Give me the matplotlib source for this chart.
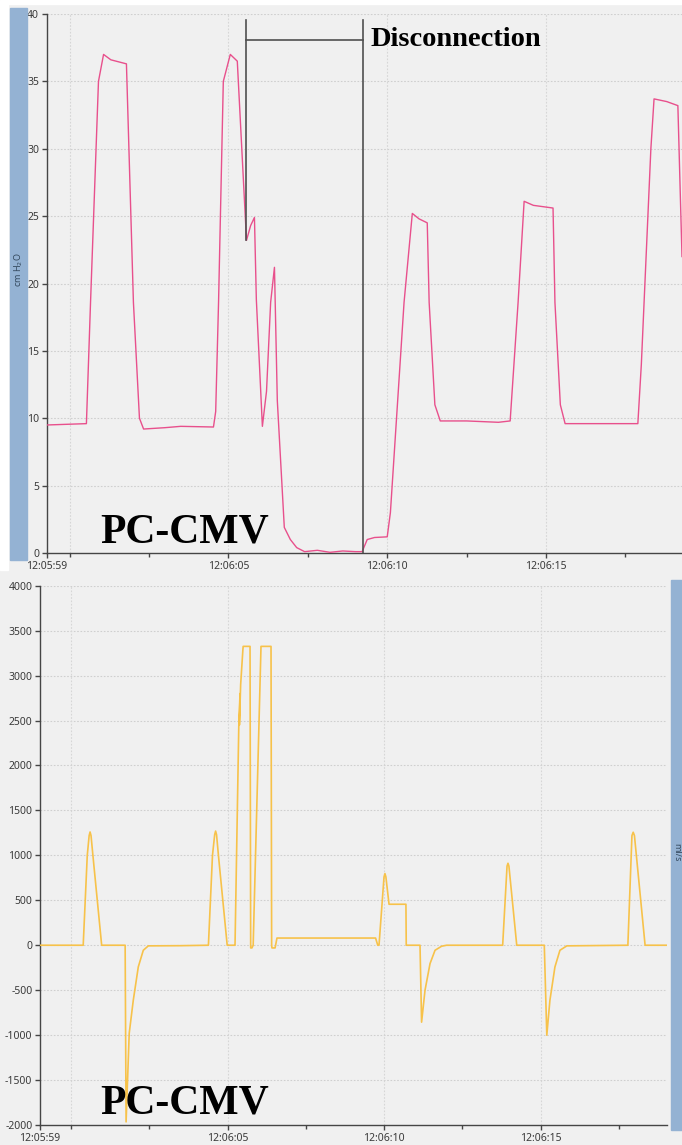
import matplotlib
matplotlib.use('Agg')
import matplotlib.pyplot as plt
from matplotlib.patches import Rectangle

plt.rcParams['axes.unicode_minus'] = False
plt.rcParams['font.family'] = ['Noto Sans', 'DejaVu Sans']

# seconds after 12:06:00
p_time = [-0.72, 0.53, 0.66, 0.91, 1.07, 1.3, 1.79, 2.01, 2.2, 2.33, 3.0, 3.5, 4.53,
          4.6, 4.69, 4.84, 5.06, 5.28, 5.57, 5.7, 5.82, 5.88, 6.07, 6.2, 6.33, 6.45,
          6.54, 6.76, 6.95, 7.15, 7.4, 7.8, 8.2, 8.6, 9.0, 9.21, 9.37, 9.6, 10.0,
          10.1, 10.53, 10.79, 11.0, 11.26, 11.32, 11.5, 11.67, 12.5, 13.5, 13.87,
          14.12, 14.31, 14.6, 15.22, 15.28, 15.45, 15.6, 16.5, 17.89, 18.0, 18.3,
          18.4, 18.8, 19.15, 19.28]
pressure = [9.5, 9.6, 18.6, 35.0, 37.0, 36.6, 36.3, 18.6, 10.0, 9.2, 9.3, 9.4, 9.35,
            10.5, 18.6, 35.0, 37.0, 36.5, 23.2, 24.3, 24.9, 18.8, 9.4, 12.0, 18.6, 21.2,
            11.3, 1.9, 1.0, 0.4, 0.1, 0.2, 0.05, 0.15, 0.1, 0.1, 1.0, 1.15, 1.2,
            3.0, 18.6, 25.2, 24.8, 24.5, 18.6, 11.0, 9.8, 9.8, 9.7, 9.8,
            18.6, 26.1, 25.8, 25.6, 18.6, 11.0, 9.6, 9.6, 9.6, 14.0, 30.0,
            33.7, 33.5, 33.2, 22.0]

f_time = [-0.99, 0.39, 0.52, 0.58, 0.61, 0.64, 0.70, 0.98, 1.73, 1.76, 1.86, 1.99,
          2.15, 2.31, 2.47, 3.5, 4.39, 4.52, 4.59, 4.62, 4.65, 4.71, 4.99, 5.22,
          5.24, 5.36, 5.40, 5.38, 5.42, 5.49, 5.50, 5.72, 5.74, 5.78, 5.82, 6.07,
          6.39, 6.41, 6.42, 6.50, 6.52, 6.58, 9.73, 9.80, 9.84, 10.0, 10.03, 10.06,
          10.16, 10.70, 10.71, 11.15, 11.20, 11.31, 11.47, 11.63, 11.84, 12.0,
          13.79, 13.93, 13.96, 13.99, 14.24, 15.12, 15.20, 15.30, 15.46, 15.62,
          15.84, 17.79, 17.92, 17.96, 18.0, 18.34, 19.04]
flow = [0, 0, 1000, 1220, 1260, 1220, 1000, 0, 0, -1965, -980, -612,
        -241, -56, -7, -5, 0, 1000, 1230, 1270, 1230, 1000, 0, 0,
        0, 2430, 2800, 2450, 2900, 3280, 3325, 3325, -30, -30, 0, 3325,
        3325, 0, -30, -30, -30, 80, 80, 0, 0, 760, 797, 760,
        456, 456, 0, 0, -856, -500, -204, -56, -11, 0,
        0, 880, 912, 880, 0, 0, -1001, -612, -241, -56,
        -7, 0, 1220, 1257, 1220, 0, 0]

p_yticks = list(range(0, 41, 5))
f_yticks = list(range(-2000, 4001, 500))
grid_secs = [0, 5, 10, 15]
minor_secs = [0, 2.5, 7.5, 12.5, 17.5]
tick_labels = ['12:05:59', '12:06:05', '12:06:10', '12:06:15']

W, H = 682, 1145
fig = plt.figure(figsize=(W / 100, H / 100), dpi=100, facecolor='#f0f0f0')

# white margins and blue side bars
fig.patches.append(Rectangle((0, 1 - 570 / H), 8 / W, 570 / H, transform=fig.transFigure,
                             color='white', zorder=0))
fig.patches.append(Rectangle((0, 1 - 4 / H), 1, 4 / H, transform=fig.transFigure,
                             color='white', zorder=0))
fig.patches.append(Rectangle((10 / W, 1 - 560 / H), 17 / W, 552 / H, transform=fig.transFigure,
                             color='#94b2d3', zorder=1))
fig.patches.append(Rectangle((671 / W, 1 - 1130 / H), 11 / W, 550 / H, transform=fig.transFigure,
                             color='#94b2d3', zorder=1))
fig.text(18.5 / W, 1 - 270 / H, 'cm H$_2$O', rotation=90, fontsize=6.5, color='#34495e',
         ha='center', va='center')
fig.text(677 / W, 1 - 852 / H, 'ml/s', rotation=270, fontsize=6.5, color='#34495e',
         ha='center', va='center')


def style(ax, xlim, ylim, yticks):
    ax.set_facecolor('none')
    ax.set_xlim(*xlim)
    ax.set_ylim(*ylim)
    for s in ['top', 'right']:
        ax.spines[s].set_visible(False)
    for s in ['left', 'bottom']:
        ax.spines[s].set_color('#454545')
        ax.spines[s].set_linewidth(1.0)
    ax.set_yticks(yticks)
    ax.set_xticks([xlim[0], 5, 10, 15])
    ax.set_xticklabels(tick_labels)
    ax.set_xticks(minor_secs, minor=True)
    ax.tick_params(axis='both', which='major', labelsize=7.5, labelcolor='#3a3a3a',
                   color='#454545', length=3.5, width=1, pad=2)
    ax.tick_params(axis='x', which='minor', color='#454545', length=3, width=1)
    for yv in yticks[1:]:
        ax.axhline(yv, color='#cfcfcf', lw=0.8, ls=(0, (1.5, 1.5)), zorder=0)
    for xv in grid_secs:
        ax.axvline(xv, color='#d6d6d6', lw=0.8, ls=(0, (1.5, 1.5)), zorder=0)


ax1 = fig.add_axes([46.7 / W, 1 - 553 / H, (W - 46.7) / W, 539 / H])
style(ax1, (-0.72, 19.28), (0, 40), p_yticks)
ax1.plot(p_time, pressure, color='#e8508c', lw=1.0, zorder=3)

# disconnection bracket
ax1.plot([5.56, 5.56], [23.2, 39.55], color='#505050', lw=1.2, zorder=4)
ax1.plot([9.24, 9.24], [0, 39.55], color='#505050', lw=1.2, zorder=4)
ax1.plot([5.56, 9.24], [38.1, 38.1], color='#505050', lw=1.2, zorder=4)
ax1.text(9.46, 38.1, 'Disconnection', family='Liberation Serif', fontweight='bold',
         fontsize=20.5, va='center', ha='left', color='black')
ax1.text(0.084, 0.02, 'PC-CMV', transform=ax1.transAxes, family='Liberation Serif',
         fontweight='bold', fontsize=30, va='baseline', ha='left', color='black')

ax2 = fig.add_axes([40 / W, 1 - 1125 / H, 627 / W, 539.3 / H])
style(ax2, (-0.99, 19.04), (-2000, 4000), f_yticks)
ax2.plot(f_time, flow, color='#f7c24a', lw=1.2, zorder=3)
ax2.text(0.0957, 0.022, 'PC-CMV', transform=ax2.transAxes, family='Liberation Serif',
         fontweight='bold', fontsize=30, va='baseline', ha='left', color='black', zorder=5)

fig.savefig('out.png', dpi=100, facecolor=fig.get_facecolor())
